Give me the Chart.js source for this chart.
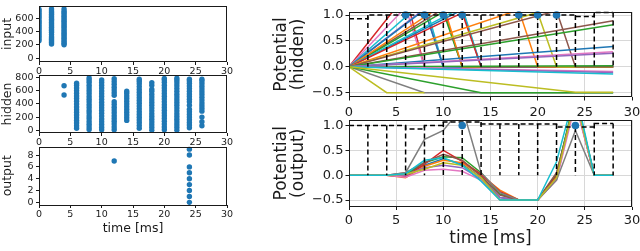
<!DOCTYPE html>
<html><head><meta charset="utf-8">
<script src="https://cdn.jsdelivr.net/npm/chart.js@4.4.1/dist/chart.umd.min.js"></script>
<style>
html,body{margin:0;padding:0;background:#fff;}
body{width:640px;height:251px;position:relative;overflow:hidden;}
canvas{position:absolute;}
</style></head><body>
<canvas id="cIn"></canvas>
<canvas id="cHid"></canvas>
<canvas id="cOut"></canvas>
<canvas id="cPotHid"></canvas>
<canvas id="cPotOut"></canvas>
<script>
// ---------------- data ----------------
const timeTicks = [0, 5, 10, 15, 20, 25, 30];

const inputTimes = [0, 2, 4];
const inputNeurons = [
  [262, 290, 318, 342, 371, 398, 425, 452, 478, 505, 531, 556, 583, 610, 636, 661, 688, 714, 740],
  [212, 236, 258, 281, 303, 322, 356, 392, 418, 441, 466, 490, 515, 541, 566, 590, 616, 640, 664, 690, 715, 745],
  [202, 226, 250, 274, 300, 326, 352, 377, 402, 428, 455, 480, 506, 531, 557, 582, 607, 633, 660, 686, 712, 744]
];
const inputTicks = [0, 200, 400, 600];

const hiddenTimes = [4, 6, 8, 10, 12, 14, 16, 18, 20, 22, 24, 26];
const hiddenNeurons = [
  [533, 673],
  [32, 70, 110, 150, 190, 232, 272, 312, 354, 396, 438, 480, 520, 560, 600, 640, 680, 712],
  [12, 50, 92, 135, 178, 218, 262, 300, 345, 388, 430, 470, 512, 555, 598, 640, 682, 725, 760, 790],
  [8, 48, 88, 130, 172, 215, 258, 300, 340, 382, 425, 468, 510, 552, 595, 638, 680, 722, 760],
  [10, 52, 95, 138, 180, 222, 265, 308, 350, 392, 432, 528, 568, 610, 652, 695, 738, 778],
  [150, 190, 232, 272, 315, 356, 398, 440, 480, 520, 560, 590],
  [30, 72, 114, 156, 198, 240, 282, 324, 366, 408, 450, 492, 534, 576, 618, 660, 702, 740, 770],
  [0, 42, 84, 126, 168, 210, 252, 294, 336, 378, 420, 462, 504, 546, 588, 620, 680, 720],
  [10, 52, 94, 136, 178, 220, 262, 304, 346, 388, 430, 472, 514, 556, 598, 640, 682, 724, 760, 782],
  [0, 42, 84, 126, 168, 210, 252, 294, 336, 378, 420, 462, 504, 546, 588, 630, 672, 714, 752, 785],
  [40, 80, 120, 160, 200, 240, 280, 320, 378, 430, 470, 510, 550, 590, 630, 670, 710, 745, 770],
  [70, 130, 200, 290, 330, 372, 414, 456, 498, 540, 582, 624, 666, 708, 745, 770]
];
const hiddenTicks = [0, 200, 400, 600, 800];

const outputTimes = [12, 24];
const outputNeurons = [[7], [0, 1, 2, 3, 4, 5, 6, 8, 9]];
const outputTicks = [0, 2, 4, 6, 8];

const potTicks = [-0.5, 0, 0.5, 1.0];
const stepTimes = [0, 2, 4, 6, 8, 10, 12, 14, 16, 18, 20, 22, 24, 26, 28];

// threshold level on each 2 ms interval
const hidThreshold = [0.93, 1.0, 1.0, 1.0, 1.0, 1.0, 1.0, 1.0, 1.0, 1.0, 1.0, 1.0, 0.97, 1.05];
const outThreshold = [1.0, 1.0, 1.0, 0.93, 1.0, 1.07, 1.07, 1.03, 1.03, 1.03, 1.03, 0.97, 0.97, 1.04];

// hidden membrane potentials: [time, value] points
const hidTraces = [
  [[0, 0], [6, 1.38], [8, 0], [28, 0]],
  [[0, 0], [6, 1.15], [8, 0], [28, 0]],
  [[0, 0], [8, 1.28], [10, 0], [28, 0]],
  [[0, 0], [8, 1.12], [10, 0], [28, 0]],
  [[0, 0], [8, 1.10], [10, 0], [28, 0]],
  [[0, 0], [10, 1.12], [12, 0], [28, 0]],
  [[0, 0], [10, 1.06], [12, 0], [28, 0]],
  [[0, 0], [10, 1.20], [12, 0], [28, 0]],
  [[0, 0], [12, 1.10], [14, 0], [28, 0]],
  [[0, 0], [12, 1.15], [14, 0], [28, 0]],
  [[0, 0], [12, 1.04], [14, 0], [28, 0]],
  [[0, 0], [18, 1.10], [20, 0], [28, 0]],
  [[0, 0], [20, 1.05], [22, 0], [28, 0]],
  [[0, 0], [22, 1.08], [24, 0], [28, 0]],
  [[0, 0], [28, 0.89]],
  [[0, 0], [28, 0.81]],
  [[0, 0], [28, 0.39]],
  [[0, 0], [28, 0.29]],
  [[0, 0], [28, 0.26]],
  [[0, 0], [28, 0.02]],
  [[0, 0], [28, -0.09]],
  [[0, 0], [28, -0.11]],
  [[0, 0], [28, -0.14]],
  [[0, 0], [8, -0.5], [28, -0.5]],
  [[0, 0], [4, -0.5], [8, -0.5]],
  [[0, 0], [14, -0.5], [28, -0.5]],
  [[0, 0], [24, -0.49], [28, -0.49]]
];
const hidColors = [3, 6, 9, 4, 0, 5, 2, 1, 0, 9, 3, 1, 8, 5, 5, 2, 0, 6, 4, 2, 6, 4, 9, 7, 8, 2, 8];
const hidSpikeTimes = [6, 8, 10, 12, 18, 20, 22];

// output membrane potentials, one row per output neuron, sampled at stepTimes
const outPotentials = [
  [0, 0, 0, 0.03, 0.20, 0.33, 0.22, -0.05, -0.45, -0.5, -0.5, 0.00, 1.60, 0, 0],
  [0, 0, 0, -0.05, 0.18, 0.30, 0.25, 0.00, -0.30, -0.5, -0.5, -0.05, 1.55, 0, 0],
  [0, 0, 0, 0.02, 0.25, 0.37, 0.35, 0.05, -0.38, -0.5, -0.5, 0.02, 1.60, 0, 0],
  [0, 0, 0, -0.03, 0.22, 0.50, 0.28, 0.02, -0.33, -0.5, -0.5, -0.02, 1.50, 0, 0],
  [0, 0, 0, 0.00, 0.15, 0.20, 0.15, -0.08, -0.45, -0.5, -0.5, -0.08, 1.55, 0, 0],
  [0, 0, 0, 0.05, 0.25, 0.42, 0.30, -0.02, -0.40, -0.5, -0.5, 0.05, 1.50, 0, 0],
  [0, 0, 0, -0.04, 0.10, 0.12, 0.08, -0.10, -0.50, -0.5, -0.5, -0.10, 1.45, 0, 0],
  [0, 0, 0, 0.05, 0.72, 0.90, 1.37, 0.05, -0.35, -0.5, -0.5, -0.10, 0.90, 0, 0],
  [0, 0, 0, 0.02, 0.12, 0.25, 0.20, -0.05, -0.50, -0.5, -0.5, -0.05, 1.55, 0, 0],
  [0, 0, 0, 0.03, 0.30, 0.35, 0.20, -0.12, -0.50, -0.5, -0.5, 0.27, 1.70, 0, 0]
];
const outSpikeTimes = [12, 24];

// ---------------- styling / helpers ----------------
const TAB10 = ['#1f77b4', '#ff7f0e', '#2ca02c', '#d62728', '#9467bd', '#8c564b', '#e377c2', '#7f7f7f', '#bcbd22', '#17becf'];
Chart.defaults.font.family = "'DejaVu Sans', 'Liberation Sans', sans-serif";
Chart.defaults.color = '#1a1a1a';
Chart.defaults.animation = false;

const framePlugin = {
  id: 'frame',
  afterDraw(chart) {
    const a = chart.chartArea, c = chart.ctx;
    c.save();
    c.strokeStyle = '#1a1a1a';
    c.lineWidth = 1;
    c.strokeRect(Math.round(a.left) + 0.5, Math.round(a.top) + 0.5, Math.round(a.right - a.left) - 1, Math.round(a.bottom - a.top) - 1);
    c.restore();
  }
};

function place(id, r) {
  const cv = document.getElementById(id);
  cv.width = r.w; cv.height = r.h;
  cv.style.left = r.x + 'px'; cv.style.top = r.y + 'px';
  cv.style.width = r.w + 'px'; cv.style.height = r.h + 'px';
  return cv;
}

function fmtPot(v) { return (v < 0 ? '\u2212' : '') + Math.abs(v).toFixed(1); }

function makeChart(id, r, area, datasets, ax) {
  const cv = place(id, r);
  const gridOpt = (len) => ({
    display: true,
    drawOnChartArea: ax.grid,
    color: '#d8d8d8',
    lineWidth: 1,
    drawTicks: true,
    tickLength: len,
    tickColor: '#1a1a1a',
    tickWidth: 1
  });
  return new Chart(cv, {
    type: 'scatter',
    data: { datasets },
    plugins: [framePlugin],
    options: {
      responsive: false,
      devicePixelRatio: 1,
      animation: false,
      events: [],
      layout: { padding: { top: area.t - r.y, right: r.x + r.w - area.r, left: 0, bottom: 0 } },
      plugins: { legend: { display: false }, tooltip: { enabled: false } },
      scales: {
        x: {
          type: 'linear', position: 'bottom', min: 0, max: 30,
          afterBuildTicks: s => { s.ticks = timeTicks.map(v => ({ value: v })); },
          afterFit: s => { s.height = r.y + r.h - area.b; s.paddingLeft = 0; s.paddingRight = 0; },
          border: { display: false },
          grid: gridOpt(ax.tickLen),
          ticks: { font: { size: ax.tickFont }, padding: ax.xPad, autoSkip: false, maxRotation: 0, callback: v => String(v) },
          title: ax.xTitle ? { display: true, text: ax.xTitle, font: { size: ax.titleFont, lineHeight: 1.0 }, padding: { top: 0, bottom: ax.xTitlePad } } : { display: false }
        },
        y: {
          type: 'linear', position: 'left', min: ax.yMin, max: ax.yMax,
          afterBuildTicks: s => { s.ticks = ax.yTicks.map(v => ({ value: v })); },
          afterFit: s => { s.width = area.l - r.x; s.paddingTop = 0; s.paddingBottom = 0; },
          border: { display: false },
          grid: gridOpt(ax.tickLen),
          ticks: { font: { size: ax.tickFont }, padding: ax.yPad, autoSkip: false, callback: ax.yFmt },
          title: { display: true, text: ax.yTitle, font: { size: ax.titleFont, lineHeight: 1.0 }, padding: { top: ax.yTitlePad, bottom: 0 } }
        }
      }
    }
  });
}

function rasterSet(times, neurons) {
  const pts = [];
  times.forEach((t, i) => neurons[i].forEach(n => pts.push({ x: t, y: n })));
  return [{ data: pts, showLine: false, pointRadius: 2.7, pointBackgroundColor: TAB10[0], pointBorderWidth: 0, clip: 0 }];
}

function thresholdSets(levels) {
  const sets = [];
  const horiz = [];
  levels.forEach((lv, i) => { horiz.push({ x: stepTimes[i], y: lv }, { x: stepTimes[i + 1], y: lv }); });
  sets.push({ data: horiz, showLine: true, pointRadius: 0, borderColor: '#000', borderWidth: 1.5, borderDash: [5, 3], clip: 1 });
  levels.forEach((lv, i) => {
    const t = stepTimes[i + 1];
    const top = Math.max(lv, levels[i + 1] !== undefined ? levels[i + 1] : lv);
    sets.push({ data: [{ x: t, y: top }, { x: t, y: 0 }], showLine: true, pointRadius: 0, borderColor: '#000', borderWidth: 1.5, borderDash: [5, 3], clip: 1 });
  });
  return sets;
}

function spikeSet(times) {
  return { data: times.map(t => ({ x: t, y: 1.0 })), showLine: false, pointRadius: 3.8, pointBackgroundColor: TAB10[0], pointBorderWidth: 0, clip: false };
}

// ---------------- left raster panels ----------------
const leftAx = { grid: false, tickLen: 3, tickFont: 9.5, xPad: 1, yPad: 2.5, titleFont: 12.5, yTitlePad: 1 };

makeChart('cIn', { x: 0, y: 0, w: 240, h: 80 }, { l: 39, t: 6, r: 227, b: 62 },
  rasterSet(inputTimes, inputNeurons),
  Object.assign({}, leftAx, { yMin: -60, yMax: 790, yTicks: inputTicks, yFmt: v => String(v), yTitle: 'input' }));

makeChart('cHid', { x: 0, y: 68, w: 240, h: 80 }, { l: 39, t: 75, r: 227, b: 133 },
  rasterSet(hiddenTimes, hiddenNeurons),
  Object.assign({}, leftAx, { yMin: -40, yMax: 835, yTicks: hiddenTicks, yFmt: v => String(v), yTitle: 'hidden' }));

makeChart('cOut', { x: 0, y: 140, w: 240, h: 96 }, { l: 39, t: 146.5, r: 227, b: 205 },
  rasterSet(outputTimes, outputNeurons),
  Object.assign({}, leftAx, { yMin: -0.45, yMax: 9.45, yTicks: outputTicks, yFmt: v => String(v), yTitle: 'output', xTitle: 'time [ms]', xTitlePad: 1.5 }));

// ---------------- right potential panels ----------------
const rightAx = { grid: true, tickLen: 3.5, tickFont: 13, xPad: 4, yPad: 2, titleFont: 17, yTitlePad: 5.5, yTicks: potTicks, yFmt: fmtPot };

const hidSets = [];
hidTraces.forEach((tr, i) => hidSets.push({
  data: tr.map(p => ({ x: p[0], y: p[1] })), showLine: true, pointRadius: 0,
  borderColor: TAB10[hidColors[i]], borderWidth: 1.5, clip: 0
}));
const hidAll = hidSets.concat(thresholdSets(hidThreshold), [spikeSet(hidSpikeTimes)]).reverse();

makeChart('cPotHid', { x: 268, y: 0, w: 372, h: 118 }, { l: 349, t: 12, r: 632, b: 97 }, hidAll,
  Object.assign({}, rightAx, { yMin: -0.583, yMax: 1.058, yTitle: ['Potential', '(hidden)'] }));

const outSets = [];
outPotentials.forEach((row, i) => outSets.push({
  data: row.map((v, j) => ({ x: stepTimes[j], y: v })), showLine: true, pointRadius: 0,
  borderColor: TAB10[i], borderWidth: 1.5, clip: 0
}));
const outAll = outSets.concat(thresholdSets(outThreshold), [spikeSet(outSpikeTimes)]).reverse();

makeChart('cPotOut', { x: 268, y: 112, w: 372, h: 139 }, { l: 349, t: 120, r: 632, b: 206.5 }, outAll,
  Object.assign({}, rightAx, { yMin: -0.63, yMax: 1.11, yTitle: ['Potential', '(output)'], xTitle: 'time [ms]', xTitlePad: 4, xPad: 3 }));
</script>
</body></html>
